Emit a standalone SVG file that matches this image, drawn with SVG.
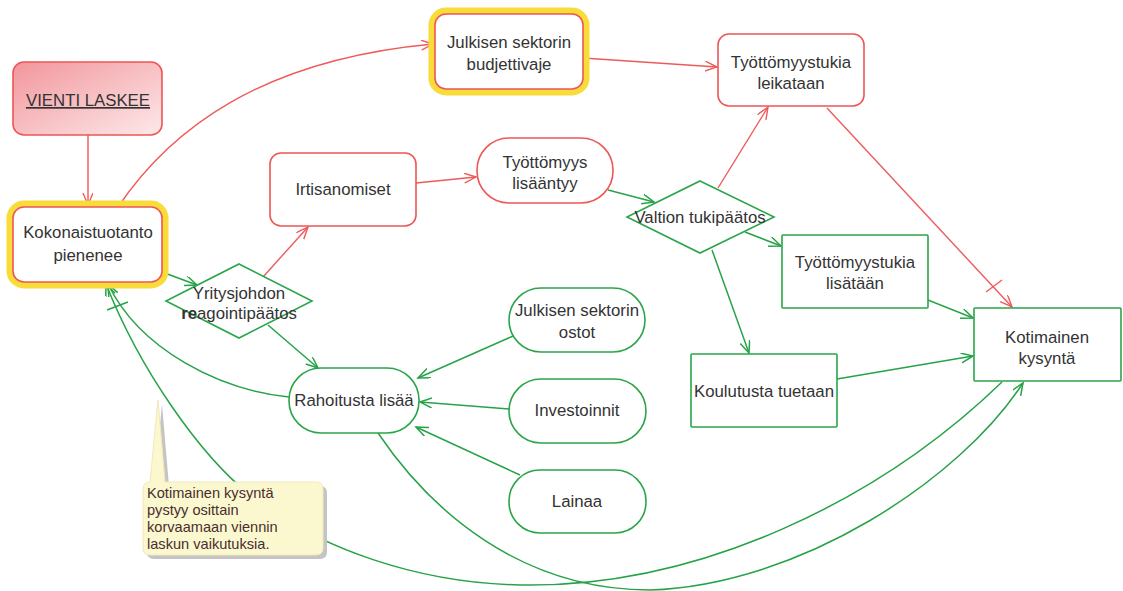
<svg xmlns="http://www.w3.org/2000/svg" width="1123" height="591" viewBox="0 0 1123 591">
<style>
text{font-family:"Liberation Sans",Arial,sans-serif;font-size:16.8px;fill:#333;text-anchor:middle}
.nr{fill:#fff;stroke:#ee5656;stroke-width:1.6}
.ng{fill:#fff;stroke:#2aa54a;stroke-width:1.6}
.halo{fill:none;stroke:#f8dc3a;stroke-width:13}
.cr{fill:none;stroke:#ef5a5a;stroke-width:1.4}
.cg{fill:none;stroke:#26a348;stroke-width:1.5}
.note text{font-size:14.6px;text-anchor:start;fill:#4a2e2e}
</style>
<defs>
<linearGradient id="pink" x1="0" y1="0" x2="1" y2="1">
<stop offset="0" stop-color="#f2969c"/>
<stop offset="1" stop-color="#fde9ea"/>
</linearGradient>
<marker id="ar" markerUnits="userSpaceOnUse" markerWidth="14" markerHeight="12" refX="12" refY="5" orient="auto">
<path d="M0,0 L12,5 L0,10" fill="none" stroke="#ef5a5a" stroke-width="1.4"/>
</marker>
<marker id="ag" markerUnits="userSpaceOnUse" markerWidth="14" markerHeight="12" refX="12" refY="5" orient="auto">
<path d="M0,0 L12,5 L0,10" fill="none" stroke="#26a348" stroke-width="1.5"/>
</marker>
</defs>

<g id="connectors">
<path class="cr" d="M88,135 L88,205" marker-end="url(#ar)"/>
<path class="cr" d="M118,207 C170,130 260,60 433,44" marker-end="url(#ar)"/>
<path class="cr" d="M583,58 L717,67" marker-end="url(#ar)"/>
<path class="cr" d="M263,277 L308,227" marker-end="url(#ar)"/>
<path class="cr" d="M416,183 L476,177" marker-end="url(#ar)"/>
<path class="cr" d="M718,188 L768,107" marker-end="url(#ar)"/>
<path class="cr" d="M827,108 L1012,307" marker-end="url(#ar)"/>
<path class="cr" d="M986,292 L1002,280"/>
<path class="cg" d="M162,272 L197,285" marker-end="url(#ag)"/>
<path class="cg" d="M268,325 L318,368" marker-end="url(#ag)"/>
<path class="cg" d="M289,397 C220,390 140,350 108,284" marker-end="url(#ag)"/>
<path class="cg" d="M1002,382 C880,500 700,588 520,585 C420,583 320,550 250,495 C200,455 140,370 106,284" marker-end="url(#ag)"/>
<path class="cg" d="M107,310 L128,302"/>
<path class="cg" d="M378,433 C430,510 520,590 650,590 C800,585 960,480 1023,383" marker-end="url(#ag)"/>
<path class="cg" d="M513,336 L418,378" marker-end="url(#ag)"/>
<path class="cg" d="M509,409 L420,402" marker-end="url(#ag)"/>
<path class="cg" d="M520,475 L416,427" marker-end="url(#ag)"/>
<path class="cg" d="M608,190 L654,202" marker-end="url(#ag)"/>
<path class="cg" d="M745,232 L781,246" marker-end="url(#ag)"/>
<path class="cg" d="M712,250 L749,353" marker-end="url(#ag)"/>
<path class="cg" d="M928,300 L973,318" marker-end="url(#ag)"/>
<path class="cg" d="M837,379 L973,356" marker-end="url(#ag)"/>
</g>

<g id="vienti">
<rect x="13" y="62" width="149" height="73" rx="11" fill="url(#pink)" stroke="#ee5656" stroke-width="1.6"/>
<text x="88" y="106" text-decoration="underline">VIENTI LASKEE</text>
</g>

<g id="kokonaistuotanto">
<rect class="halo" x="13" y="207" width="149" height="75" rx="11"/>
<rect class="nr" x="13" y="207" width="149" height="75" rx="11"/>
<text x="88" y="238">Kokonaistuotanto</text>
<text x="88" y="261">pienenee</text>
</g>

<g id="budjettivaje">
<rect class="halo" x="435" y="14" width="148" height="75" rx="11"/>
<rect class="nr" x="435" y="14" width="148" height="75" rx="11"/>
<text x="509" y="48">Julkisen sektorin</text>
<text x="509" y="70">budjettivaje</text>
</g>

<g id="leikataan">
<rect class="nr" x="718" y="34" width="146" height="72" rx="11"/>
<text x="791" y="68">Työttömyystukia</text>
<text x="791" y="89">leikataan</text>
</g>

<g id="irtisanomiset">
<rect class="nr" x="270" y="153" width="146" height="73" rx="11"/>
<text x="343" y="195">Irtisanomiset</text>
</g>

<g id="tyottomyys">
<rect class="nr" x="477" y="138" width="136" height="65" rx="32"/>
<text x="545" y="168">Työttömyys</text>
<text x="545" y="189">lisääntyy</text>
</g>

<g id="valtion">
<polygon class="ng" points="700,181 774,217 700,253 627,217"/>
<text x="700" y="223">Valtion tukipäätos</text>
</g>

<g id="yritysjohdon">
<polygon class="ng" points="239,264 312,301 239,338 166,301"/>
<text x="239" y="299">Yritysjohdon</text>
<text x="239" y="319"><tspan font-weight="bold">re</tspan>agointipäätos</text>
</g>

<g id="ostot">
<rect class="ng" x="509" y="288" width="136" height="64" rx="32"/>
<text x="577" y="316">Julkisen sektorin</text>
<text x="577" y="338">ostot</text>
</g>

<g id="rahoitusta">
<rect class="ng" x="289" y="368" width="130" height="65" rx="32"/>
<text x="354" y="406">Rahoitusta lisää</text>
</g>

<g id="investoinnit">
<rect class="ng" x="509" y="379" width="137" height="64" rx="32"/>
<text x="577" y="416">Investoinnit</text>
</g>

<g id="lainaa">
<rect class="ng" x="509" y="470" width="137" height="63" rx="31"/>
<text x="577" y="507">Lainaa</text>
</g>

<g id="lisataan">
<rect class="ng" x="782" y="235" width="146" height="73" rx="1"/>
<text x="855" y="268">Työttömyystukia</text>
<text x="855" y="289">lisätään</text>
</g>

<g id="koulutusta">
<rect class="ng" x="691" y="354" width="146" height="73" rx="1"/>
<text x="764" y="397">Koulutusta tuetaan</text>
</g>

<g id="kotimainen">
<rect class="ng" x="974" y="308" width="147" height="73" rx="1"/>
<text x="1047" y="343">Kotimainen</text>
<text x="1047" y="364">kysyntä</text>
</g>

<g id="note" class="note">
<path d="M150,482 L158,400 L165,482 H316 Q323,482 323,489 V548 Q323,555 316,555 H150 Q143,555 143,548 V489 Q143,482 150,482 Z" fill="#c4c4c4" transform="translate(4,4)"/>
<path d="M150,482 L158,400 L165,482 H316 Q323,482 323,489 V548 Q323,555 316,555 H150 Q143,555 143,548 V489 Q143,482 150,482 Z" fill="#fbf8d0" stroke="#f0eab8" stroke-width="1"/>
<text x="147" y="498">Kotimainen kysyntä</text>
<text x="147" y="515">pystyy osittain</text>
<text x="147" y="532">korvaamaan viennin</text>
<text x="147" y="549">laskun vaikutuksia.</text>
</g>
</svg>
